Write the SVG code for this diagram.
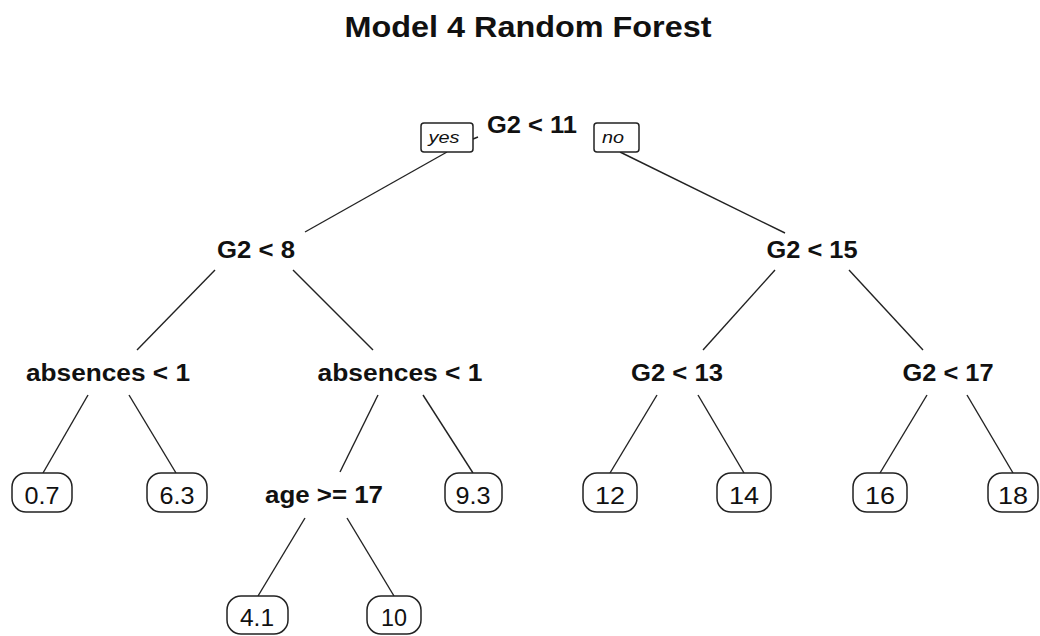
<svg xmlns="http://www.w3.org/2000/svg" width="1040" height="636" viewBox="0 0 1040 636">
<style>
.bg{fill:#ffffff}
.split{font-family:"Liberation Sans",Arial,sans-serif;font-weight:bold;font-size:23px;fill:#111;text-anchor:middle}
.title{font-family:"Liberation Sans",Arial,sans-serif;font-weight:bold;font-size:29px;fill:#111;text-anchor:middle}
.leaf{font-family:"Liberation Sans",Arial,sans-serif;font-size:23px;fill:#111;text-anchor:middle}
.lab{font-family:"Liberation Sans",Arial,sans-serif;font-style:italic;font-size:17px;fill:#111;text-anchor:middle}
.box{fill:#fff;stroke:#222;stroke-width:1.5}
.edge{stroke:#222;stroke-width:1.4;fill:none}
</style>
<rect class="bg" x="0" y="0" width="1040" height="636"/>
<text class="title" x="528" y="37" textLength="367" lengthAdjust="spacingAndGlyphs">Model 4 Random Forest</text>
<g id="connectors">
<line class="edge" x1="473" y1="139" x2="478" y2="137"/>
<line class="edge" x1="447" y1="152" x2="305" y2="232"/>
<line class="edge" x1="620" y1="152" x2="785" y2="233"/>
<line class="edge" x1="215" y1="270" x2="137" y2="350"/>
<line class="edge" x1="293" y1="270" x2="373" y2="350"/>
<line class="edge" x1="775" y1="270" x2="703" y2="350"/>
<line class="edge" x1="849" y1="270" x2="923" y2="350"/>
<line class="edge" x1="88" y1="395" x2="43" y2="473"/>
<line class="edge" x1="129" y1="395" x2="176" y2="473"/>
<line class="edge" x1="378" y1="395" x2="340" y2="472"/>
<line class="edge" x1="423" y1="395" x2="473" y2="473"/>
<line class="edge" x1="657" y1="395" x2="610" y2="473"/>
<line class="edge" x1="698" y1="395" x2="744" y2="473"/>
<line class="edge" x1="927" y1="395" x2="880" y2="473"/>
<line class="edge" x1="967" y1="395" x2="1013" y2="473"/>
<line class="edge" x1="305" y1="518" x2="258" y2="596"/>
<line class="edge" x1="347" y1="518" x2="394" y2="596"/>
</g>
<g id="n_root">
<text class="split" x="532" y="133" textLength="90" lengthAdjust="spacingAndGlyphs">G2 &lt; 11</text>
</g>
<g id="yes_label">
<rect class="box" x="421" y="123" width="52" height="29" rx="3"/>
<text class="lab" x="444" y="143" textLength="31" lengthAdjust="spacingAndGlyphs">yes</text>
</g>
<g id="no_label">
<rect class="box" x="594" y="123" width="45" height="29" rx="3"/>
<text class="lab" x="613" y="143" textLength="22" lengthAdjust="spacingAndGlyphs">no</text>
</g>
<g id="n_g2_8">
<text class="split" x="256" y="258" textLength="78" lengthAdjust="spacingAndGlyphs">G2 &lt; 8</text>
</g>
<g id="n_g2_15">
<text class="split" x="812" y="258" textLength="91" lengthAdjust="spacingAndGlyphs">G2 &lt; 15</text>
</g>
<g id="n_abs_left">
<text class="split" x="108" y="381" textLength="164" lengthAdjust="spacingAndGlyphs">absences &lt; 1</text>
</g>
<g id="n_abs_mid">
<text class="split" x="400" y="381" textLength="165" lengthAdjust="spacingAndGlyphs">absences &lt; 1</text>
</g>
<g id="n_g2_13">
<text class="split" x="677" y="381" textLength="92" lengthAdjust="spacingAndGlyphs">G2 &lt; 13</text>
</g>
<g id="n_g2_17">
<text class="split" x="948" y="381" textLength="91" lengthAdjust="spacingAndGlyphs">G2 &lt; 17</text>
</g>
<g id="n_age">
<text class="split" x="324" y="503" textLength="118" lengthAdjust="spacingAndGlyphs">age &gt;= 17</text>
</g>
<g id="leaf_07">
<rect class="box" x="12" y="473" width="60" height="39" rx="14"/>
<text class="leaf" x="42" y="504" textLength="35" lengthAdjust="spacingAndGlyphs">0.7</text>
</g>
<g id="leaf_63">
<rect class="box" x="147" y="473" width="60" height="39" rx="14"/>
<text class="leaf" x="177" y="504" textLength="35" lengthAdjust="spacingAndGlyphs">6.3</text>
</g>
<g id="leaf_93">
<rect class="box" x="445" y="473" width="57" height="39" rx="14"/>
<text class="leaf" x="473" y="504" textLength="35" lengthAdjust="spacingAndGlyphs">9.3</text>
</g>
<g id="leaf_12">
<rect class="box" x="583" y="473" width="54" height="39" rx="14"/>
<text class="leaf" x="610" y="504" textLength="30" lengthAdjust="spacingAndGlyphs">12</text>
</g>
<g id="leaf_14">
<rect class="box" x="717" y="473" width="54" height="39" rx="14"/>
<text class="leaf" x="744" y="504" textLength="30" lengthAdjust="spacingAndGlyphs">14</text>
</g>
<g id="leaf_16">
<rect class="box" x="853" y="473" width="54" height="39" rx="14"/>
<text class="leaf" x="880" y="504" textLength="30" lengthAdjust="spacingAndGlyphs">16</text>
</g>
<g id="leaf_18">
<rect class="box" x="988" y="473" width="50" height="39" rx="14"/>
<text class="leaf" x="1013" y="504" textLength="30" lengthAdjust="spacingAndGlyphs">18</text>
</g>
<g id="leaf_41">
<rect class="box" x="227" y="596" width="61" height="38" rx="14"/>
<text class="leaf" x="257" y="626" textLength="34" lengthAdjust="spacingAndGlyphs">4.1</text>
</g>
<g id="leaf_10">
<rect class="box" x="367" y="596" width="54" height="38" rx="14"/>
<text class="leaf" x="394" y="626" textLength="26" lengthAdjust="spacingAndGlyphs">10</text>
</g>
</svg>
